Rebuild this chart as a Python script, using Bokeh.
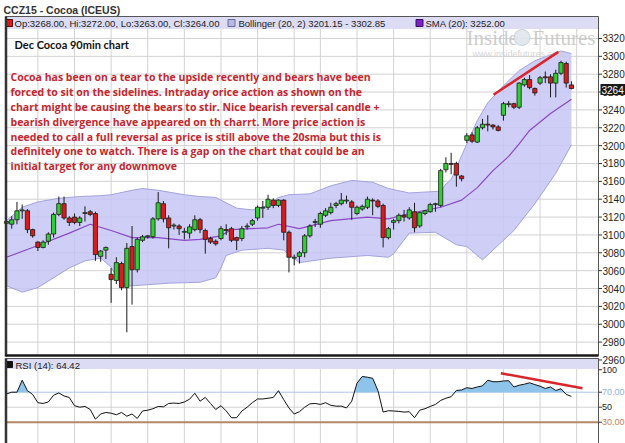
from bokeh.plotting import figure
from bokeh.models import Range1d
from bokeh.core.properties import value
from bokeh.embed import file_html
from bokeh.resources import INLINE

# ---------------- data ----------------
opens = [3113, 3112, 3117, 3127, 3127, 3106, 3092, 3086, 3093, 3101,
         3123, 3135, 3119, 3120, 3114, 3124, 3126, 3124, 3076, 3083,
         3056, 3049, 3068, 3041, 3087, 3061, 3094, 3098, 3098, 3118,
         3135, 3119, 3110, 3110, 3103, 3102, 3106, 3117, 3105, 3096,
         3093, 3096, 3106, 3107, 3097, 3096, 3109, 3112, 3119, 3130,
         3131, 3139, 3133, 3139, 3103, 3074, 3076, 3080, 3099, 3114,
         3112, 3122, 3125, 3133, 3135, 3138, 3137, 3124, 3129, 3131,
         3139, 3138, 3133, 3097, 3114, 3116, 3122, 3119, 3126, 3110,
         3124, 3126, 3134, 3133, 3173, 3180, 3180, 3166, 3206, 3212,
         3204, 3220, 3224, 3223, 3221, 3234, 3246, 3247, 3243, 3268,
         3274, 3264, 3270, 3277, 3277, 3270, 3281, 3292, 3268]
highs = [3122, 3121, 3137, 3134, 3129, 3107, 3093, 3094, 3103, 3125,
         3143, 3143, 3121, 3124, 3121, 3132, 3128, 3126, 3083, 3087,
         3063, 3075, 3070, 3091, 3110, 3097, 3100, 3100, 3120, 3148,
         3138, 3122, 3113, 3112, 3108, 3112, 3122, 3119, 3107, 3098,
         3095, 3110, 3112, 3109, 3098, 3110, 3113, 3118, 3133, 3138,
         3145, 3141, 3140, 3140, 3105, 3078, 3082, 3101, 3112, 3118,
         3126, 3130, 3136, 3137, 3147, 3144, 3139, 3133, 3134, 3143,
         3141, 3140, 3135, 3109, 3118, 3124, 3128, 3131, 3136, 3126,
         3128, 3136, 3136, 3174, 3187, 3192, 3182, 3167, 3214, 3215,
         3222, 3230, 3234, 3224, 3223, 3249, 3250, 3248, 3271, 3276,
         3279, 3265, 3278, 3283, 3280, 3285, 3295, 3294, 3272]
lows = [3108, 3107, 3112, 3118, 3102, 3097, 3082, 3085, 3089, 3097,
        3121, 3117, 3110, 3112, 3110, 3115, 3121, 3071, 3070, 3073,
        3024, 3045, 3038, 2991, 3022, 3058, 3092, 3096, 3096, 3116,
        3114, 3085, 3106, 3100, 3095, 3096, 3104, 3102, 3079, 3090,
        3088, 3094, 3100, 3092, 3083, 3093, 3106, 3110, 3116, 3119,
        3128, 3130, 3131, 3094, 3058, 3066, 3068, 3075, 3097, 3109,
        3108, 3120, 3123, 3130, 3133, 3135, 3117, 3122, 3127, 3129,
        3122, 3130, 3086, 3095, 3106, 3113, 3115, 3117, 3103, 3108,
        3122, 3125, 3126, 3131, 3170, 3168, 3154, 3160, 3203, 3203,
        3203, 3218, 3216, 3218, 3216, 3228, 3243, 3241, 3241, 3266,
        3263, 3256, 3268, 3270, 3254, 3254, 3279, 3265, 3263]
closes = [3115, 3117, 3127, 3128, 3106, 3099, 3086, 3092, 3101, 3123,
          3135, 3119, 3114, 3114, 3119, 3125, 3123, 3078, 3082, 3086,
          3050, 3069, 3041, 3085, 3061, 3095, 3098, 3099, 3118, 3136,
          3118, 3108, 3111, 3107, 3104, 3109, 3117, 3106, 3095, 3092,
          3090, 3107, 3105, 3094, 3094, 3107, 3110, 3116, 3131, 3131,
          3140, 3133, 3139, 3103, 3075, 3075, 3080, 3099, 3110, 3115,
          3124, 3127, 3131, 3135, 3139, 3139, 3131, 3131, 3132, 3140,
          3138, 3132, 3097, 3107, 3116, 3122, 3120, 3128, 3108, 3125,
          3127, 3134, 3135, 3172, 3180, 3179, 3167, 3163, 3211, 3205,
          3220, 3224, 3223, 3221, 3217, 3247, 3247, 3243, 3270, 3274,
          3265, 3259, 3276, 3276, 3270, 3281, 3293, 3270, 3264]

upper_idx = [0, 3, 6, 10, 14, 18, 20, 24, 26, 29, 34, 37, 40, 42, 44, 47, 50, 52, 54, 58,
             62, 66, 70, 73, 77, 83, 84, 85, 88, 90, 92, 95, 98, 101, 105, 106, 108]
upper_val = [3116, 3131, 3137, 3141, 3143, 3144, 3145, 3150, 3152, 3150, 3145, 3143, 3142, 3136,
             3130, 3128, 3133, 3142, 3145, 3146, 3155, 3161, 3159, 3152, 3147, 3149, 3157, 3162,
             3202, 3228, 3248, 3267, 3284, 3295, 3304, 3306, 3303]
lower_idx = [0, 3, 6, 12, 15, 18, 20, 22, 24, 31, 37, 40, 41, 42, 45, 50, 53, 56, 62, 69,
             73, 74, 77, 82, 84, 86, 88, 91, 93, 97, 101, 105, 108]
lower_val = [3043, 3036, 3041, 3063, 3071, 3074, 3064, 3043, 3043, 3046, 3047, 3052, 3063, 3077,
             3083, 3085, 3083, 3069, 3074, 3077, 3075, 3079, 3102, 3103, 3096, 3089, 3087, 3072,
             3083, 3105, 3135, 3169, 3201]
sma_idx = [0, 5, 12, 16, 20, 24, 29, 34, 37, 41, 43, 50, 52, 56, 60, 62, 69, 73, 77, 83,
           87, 90, 93, 96, 98, 100, 104, 108]
sma_val = [3075, 3086, 3102, 3112, 3105, 3097, 3097, 3094, 3095, 3099, 3106, 3108, 3112, 3107,
           3113, 3116, 3120, 3118, 3124, 3131, 3139, 3153, 3172, 3188, 3202, 3217, 3236, 3252]

rsi = [67.7, 70, 70, 86, 72, 67, 56, 55, 57, 66,
       69, 65, 63, 52, 50, 51, 47, 34, 41, 43,
       42, 40, 43, 38, 41, 35, 45, 46, 48, 51,
       50.5, 55, 55.5, 55, 57, 60.7, 68.6, 58, 63, 55,
       47, 52, 45, 36, 36, 45, 50, 56, 61, 61,
       62, 63, 72, 60, 49, 41, 44, 50, 54.5, 55,
       53.7, 56, 52.5, 51.4, 51.4, 49, 58, 82, 91, 90,
       88.6, 72.3, 43.5, 45.3, 45, 44.4, 43.5, 44, 36, 46,
       48, 51, 53.7, 59, 62, 64, 72.3, 73, 76, 75,
       77, 78.5, 86, 84, 84, 85, 85.3, 77, 79.3, 80.7,
       82.6, 80.2, 78, 75, 77, 72.3, 74.7, 67, 64.42]

day_ticks = [6, 13, 20, 27, 34, 41, 48, 55, 60, 67, 74, 81, 88, 95, 102, 109]
price_ticks = [2960, 2980, 3000, 3020, 3040, 3060, 3080, 3100, 3120, 3140, 3160, 3180,
               3200, 3220, 3240, 3260, 3280, 3300, 3320]
rsi_ticks = [100, 70, 50, 30, 0]
rsi_tick_labels = ["100", "70.00", "50", "30.00", ""]

price_trend_x = [93.1, 105.5]
price_trend_y = [3257, 3305]
rsi_trend_x = [94.5, 110.1]
rsi_trend_y = [95.3, 75.3]

title_text = "CCZ15 - Cocoa (ICEUS)"
legend_texts = ["Op:3268.00, Hi:3272.00, Lo:3263.00, Cl:3264.00",
                "Bollinger (20, 2) 3201.15 - 3302.85",
                "SMA (20): 3252.00"]
rsi_legend = "RSI (14): 64.42"
heading = "Dec Cocoa 90min chart"
note_lines = [
    "Cocoa has been on a tear to the upside recently and bears have been",
    "forced to sit on the sidelines. Intraday orice action as shown on the",
    "chart might be causing the bears to stir. Nice bearish reversal candle +",
    "bearish divergence have appeared on th charrt. More price action is",
    "needed to call a full reversal as price is still above the 20sma but this is",
    "definitely one to watch. There is a gap on the chart that could be an",
    "initial  target for any downmove",
]
last_close_label = "3264"

# ---------------- pixel helpers (layout only) ----------------
PX0, PXW = 6.0, 5.231                 # pixel of bar 0, pixels per bar
def bx(px):
    return (px - PX0) / PXW

P_TOP, P_BOT = 3344.6, 2965.0         # price at pixel rows 16 and 355
def py(px):
    return P_TOP - (px - 16) * (P_TOP - P_BOT) / 339.0

R_TOP, R_BOT = 116.3, 1.6             # RSI at pixel rows 357 and 443
def ry(px):
    return R_TOP - (px - 357) * (R_TOP - R_BOT) / 86.0

def px_of_price(v):
    return 16 + (P_TOP - v) * 339.0 / (P_TOP - P_BOT)

L, R = 5, 598                         # chart box left/right pixel
FONT = value("Liberation Sans")
GRID = "#d2d2d2"
STRIP = "#dcdcf5"
INK = "#222222"

p = figure(width=625, height=443, x_range=Range1d(bx(0), bx(625)),
           y_range=Range1d(py(443), py(0)),
           extra_y_ranges={"rsi": Range1d(ry(443), ry(0))},
           x_axis_type=None, y_axis_type=None, min_border=0,
           toolbar_location=None, output_backend="svg")
p.outline_line_color = None
p.background_fill_color = "white"
p.border_fill_color = "white"

# ---------------- grids ----------------
grid_prices = [t for t in price_ticks if 16 < px_of_price(t) < 355]
p.segment(x0=[bx(L)] * len(grid_prices), x1=[bx(R)] * len(grid_prices),
          y0=grid_prices, y1=grid_prices, line_color=GRID, line_width=1)
p.segment(x0=day_ticks, x1=day_ticks, y0=[py(355)] * len(day_ticks), y1=[py(16)] * len(day_ticks),
          line_color=GRID, line_width=1)
p.segment(x0=day_ticks, x1=day_ticks, y0=[ry(445)] * len(day_ticks), y1=[ry(358)] * len(day_ticks),
          line_color=GRID, line_width=1, y_range_name="rsi")
p.segment(x0=[bx(L)], x1=[bx(R)], y0=[50], y1=[50], line_color=GRID, line_width=1,
          y_range_name="rsi")

# legend strips
p.quad(left=[bx(L)], right=[bx(R)], top=[py(16)], bottom=[py(28.5)], fill_color=STRIP,
       line_color=None)
p.quad(left=[bx(L)], right=[bx(R)], top=[ry(358)], bottom=[101], fill_color=STRIP,
       line_color=None, y_range_name="rsi")

# ---------------- price panel ----------------
band_x = list(upper_idx) + list(lower_idx[::-1])
band_y = list(upper_val) + list(lower_val[::-1])
p.patch(band_x, band_y, fill_color="#c6c6f5", fill_alpha=0.85, line_color=None)
p.line(upper_idx, upper_val, line_color="#a2a2dc", line_width=1)
p.line(lower_idx, lower_val, line_color="#a2a2dc", line_width=1)
p.line(sma_idx, sma_val, line_color="#8a48c4", line_width=1.2)

# watermark
p.text(x=[bx(466)], y=[py(37)], text=["Inside"], text_font=value("Liberation Sans Narrow"),
       text_font_size="21px", text_color="#c4c4c4", text_alpha=0.85, text_baseline="middle")
p.scatter(x=[bx(521.5)], y=[py(37)], marker="circle", size=16, fill_color="#dfe5ec",
          line_color="#c5ccd6", alpha=0.9)
p.text(x=[bx(532)], y=[py(37)], text=["Futures"], text_font=value("Liberation Sans Narrow"),
       text_font_size="21px", text_color="#c4c4c4", text_alpha=0.85, text_baseline="middle")
p.text(x=[bx(472)], y=[py(53)], text=["www.insidefutures.com"], text_font=FONT,
       text_font_size="9px", text_color="#cfcfcf", text_alpha=0.9, text_baseline="middle")

# candles
idx = list(range(len(opens)))
tops = [max(o, c) for o, c in zip(opens, closes)]
bots = [min(o, c) for o, c in zip(opens, closes)]
cols = ["#2fcf2f" if c >= o else "#d81c1c" for o, c in zip(opens, closes)]
p.segment(x0=idx, y0=lows, x1=idx, y1=highs, line_color="#1a1a1a", line_width=1)
p.vbar(x=idx, width=0.8, top=tops, bottom=bots, fill_color=cols, line_color="#1a1a1a",
       line_width=0.8)

p.line(price_trend_x, price_trend_y, line_color="#d8252a", line_width=2.5)

# legend strip contents
p.scatter(x=[bx(8.5), bx(231), bx(419)], y=[py(22.5)] * 3, marker="square", size=7,
          fill_color=["#d81c1c", "#b9b9e6", "#7a22c6"],
          line_color=["#5a0000", "#6a6a9a", "#3a0a60"])
p.text(x=[bx(14), bx(238), bx(425)], y=[py(23)] * 3, text=legend_texts, text_font=FONT,
       text_font_size="9.5px", text_color=INK, text_baseline="middle")

# annotation texts
p.text(x=[bx(14)], y=[py(43.5)], text=[heading], text_font=value("Lato"),
       text_font_style="bold", text_font_size="11px", text_color="#111111", text_baseline="middle")
p.text(x=[bx(10)] * len(note_lines), y=[py(76.7 + k * 14.85) for k in range(len(note_lines))],
       text=note_lines, text_font=value("Open Sans"), text_font_style="bold",
       text_font_size="10.5px", text_color="#c4262e", text_baseline="middle")

# ---------------- RSI panel ----------------
p.segment(x0=[bx(L)], x1=[bx(R)], y0=[70], y1=[70], line_color="#a9c6e6", line_width=1,
          y_range_name="rsi")
p.segment(x0=[bx(L)], x1=[bx(R)], y0=[30], y1=[30], line_color="#b5876a", line_width=2,
          y_range_name="rsi")
fx, fy = [], []
for i, v in enumerate(rsi):
    if i > 0:
        a = rsi[i - 1]
        if (a - 70) * (v - 70) < 0:
            t = (70 - a) / (v - a)
            fx.append(i - 1 + t)
            fy.append(70)
    fx.append(i)
    fy.append(v)
p.varea(x=fx, y1=[70] * len(fx), y2=[max(v, 70) for v in fy], fill_color="#8ec3ea",
        y_range_name="rsi")
p.line(idx, rsi, line_color="#111111", line_width=1, y_range_name="rsi")
p.line(rsi_trend_x, rsi_trend_y, line_color="#d8252a", line_width=2.5, y_range_name="rsi")
p.scatter(x=[bx(9)], y=[ry(364)], marker="square", size=6, fill_color="#111111",
          line_color="#111111", y_range_name="rsi")
p.text(x=[bx(15)], y=[ry(364.5)], text=[rsi_legend], text_font=FONT, text_font_size="9.5px",
       text_color=INK, text_baseline="middle", y_range_name="rsi")

# ---------------- frames ----------------
p.quad(left=[bx(L)], right=[bx(R)], top=[py(16)], bottom=[py(355)], fill_color=None,
       line_color="#555555", line_width=1)
p.segment(x0=[bx(L + 0.5)], x1=[bx(L + 0.5)], y0=[py(16)], y1=[py(356)], line_color="#333333",
          line_width=2.5)
p.segment(x0=[bx(L)], x1=[bx(R)], y0=[py(355)], y1=[py(355)], line_color="#1a1a1a", line_width=2.5)
p.quad(left=[bx(L)], right=[bx(R)], top=[ry(358)], bottom=[ry(450)], fill_color=None,
       line_color="#555555", line_width=1, y_range_name="rsi")
p.segment(x0=[bx(L + 0.5)], x1=[bx(L + 0.5)], y0=[ry(358)], y1=[ry(450)], line_color="#333333",
          line_width=2.5, y_range_name="rsi")

# ---------------- right-hand scales ----------------
p.segment(x0=[bx(R)] * len(price_ticks), x1=[bx(R + 3.5)] * len(price_ticks),
          y0=price_ticks, y1=price_ticks, line_color="#333333", line_width=1)
p.text(x=[bx(R + 4)] * len(price_ticks), y=price_ticks, text=[str(t) for t in price_ticks],
       text_font=FONT, text_font_size="10px", text_color=INK, text_baseline="middle")
p.quad(left=[bx(600)], right=[bx(626)], top=[py(83.5)], bottom=[py(94.5)],
       fill_color="#1a1a1a", line_color=None)
p.text(x=[bx(601)], y=[py(89)], text=[last_close_label], text_font=FONT, text_font_size="10px",
       text_color="white", text_baseline="middle")

p.segment(x0=[bx(R)] * len(rsi_ticks), x1=[bx(R + 3.5)] * len(rsi_ticks),
          y0=rsi_ticks, y1=rsi_ticks, line_color="#333333", line_width=1, y_range_name="rsi")
p.text(x=[bx(R + 3.5)] * len(rsi_ticks), y=rsi_ticks, text=rsi_tick_labels, text_font=FONT,
       text_font_size="9px", text_color=["#222222", "#8fb2d6", "#222222", "#bb8458", "#222222"],
       text_baseline="middle", y_range_name="rsi")

# title
p.text(x=[bx(3)], y=[py(9)], text=[title_text], text_font=FONT, text_font_style="bold",
       text_font_size="10.5px", text_color="#333333", text_baseline="middle")

open("out.html", "w").write(file_html(p, INLINE))
